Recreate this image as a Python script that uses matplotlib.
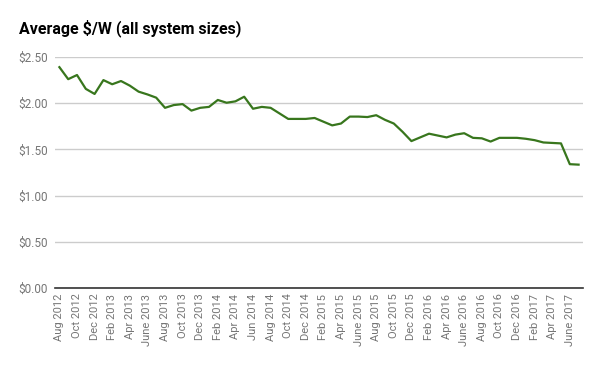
import matplotlib
matplotlib.use("Agg")
import matplotlib.pyplot as plt
from matplotlib.ticker import FuncFormatter, MultipleLocator

plt.rcParams['font.family'] = ['Roboto', 'DejaVu Sans']

# monthly average $/W, Aug 2012 .. Jul 2017
price = [
    2.39, 2.26, 2.305, 2.155, 2.10,
    2.25, 2.205, 2.24, 2.19, 2.125, 2.095, 2.06, 1.95, 1.98, 1.99, 1.92, 1.95,
    1.96, 2.035, 2.005, 2.02, 2.07, 1.94, 1.96, 1.95, 1.89, 1.83, 1.83, 1.83,
    1.84, 1.80, 1.76, 1.78, 1.855, 1.855, 1.85, 1.87, 1.82, 1.78, 1.69, 1.59,
    1.63, 1.67, 1.65, 1.63, 1.66, 1.675, 1.625, 1.62, 1.585, 1.625, 1.625, 1.625,
    1.615, 1.60, 1.575, 1.57, 1.565, 1.34, 1.335,
]

# labels shown on the axis (every other month)
tick_labels = [
    "Aug 2012", "Oct 2012", "Dec 2012", "Feb 2013", "Apr 2013", "June 2013",
    "Aug 2013", "Oct 2013", "Dec 2013", "Feb 2014", "Apr 2014", "Jun 2014",
    "Aug 2014", "Oct 2014", "Dec 2014", "Feb 2015", "Apr 2015", "June 2015",
    "Aug 2015", "Oct 2015", "Dec 2015", "Feb 2016", "Apr 2016", "June 2016",
    "Aug 2016", "Oct 2016", "Dec 2016", "Feb 2017", "Apr 2017", "June 2017",
]

x = list(range(len(price)))

fig = plt.figure(figsize=(6, 3.71), dpi=100)
ax = fig.add_axes([55 / 600, 1 - 288 / 371, 528 / 600, 231 / 371])

ax.plot(x, price, color='#38761d', linewidth=1.6, solid_joinstyle='round')

ax.set_xlim(-0.5, len(price) - 0.5)
ax.set_ylim(0, 2.5)
ax.yaxis.set_major_locator(MultipleLocator(0.5))
ax.yaxis.set_major_formatter(FuncFormatter(lambda v, p: f"${v:.2f}"))
ax.grid(axis='y', color='#cccccc', linewidth=1)
ax.set_axisbelow(True)

ax.set_xticks(x[::2])
ax.set_xticklabels(tick_labels, rotation=90)

for s in ['top', 'right', 'left']:
    ax.spines[s].set_visible(False)
ax.spines['bottom'].set_color('#333333')
ax.spines['bottom'].set_linewidth(1.2)
ax.spines['bottom'].set_zorder(3)

ax.tick_params(axis='both', length=0, colors='#757575', labelsize=8.5)
ax.tick_params(axis='y', pad=5)
ax.tick_params(axis='x', pad=4, labelsize=8)

fig.text(19 / 600, 1 - 28 / 371, "Average $/W (all system sizes)",
         fontsize=11.5, fontweight='bold', color='#000000', va='center', ha='left')

fig.savefig("out.png", dpi=100)
